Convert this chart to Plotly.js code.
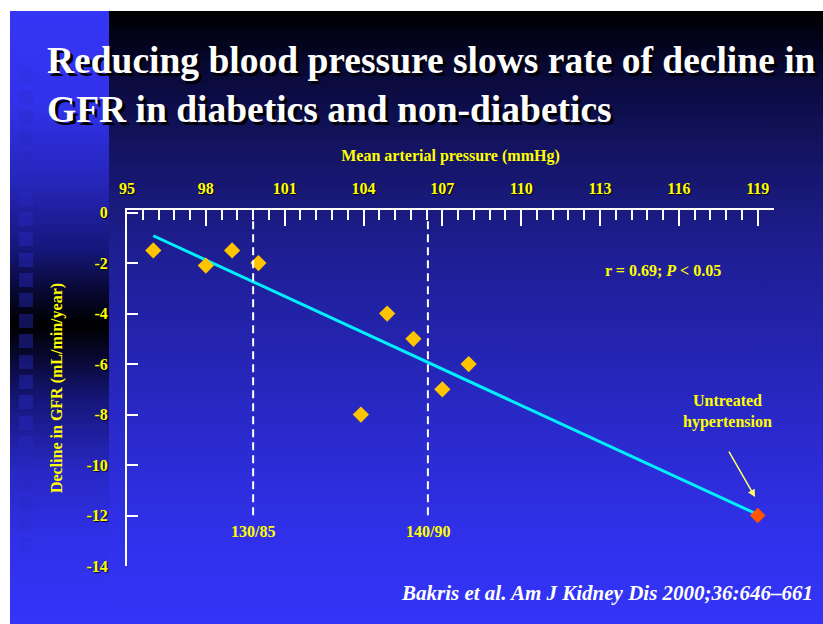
<!DOCTYPE html>
<html>
<head>
<meta charset="utf-8">
<script src="https://cdn.plot.ly/plotly-3.0.1.min.js"></script>
<style>
  html, body { margin: 0; padding: 0; background: #ffffff; }
  #wrap { position: relative; width: 823px; height: 624px; overflow: hidden; background: #ffffff; }
  #slide {
    position: absolute; left: 10px; top: 11px; width: 813px; height: 613px;
    background: linear-gradient(to bottom,
      #000000 0%, #03031a 4.7%, #0a0a3c 11%, #111158 19.4%, #16166c 26%,
      #1e1e92 39%, #2424b2 55.5%, #2b2bd2 71.6%, #3131ee 88%, #3434f8 100%);
  }
  #strip {
    position: absolute; left: 0; top: 0; width: 99px; height: 100%;
    background: linear-gradient(to bottom,
      #3535f5 0%, #3232ec 14.5%, #2626bb 27.6%, #16167a 39%, #07072c 46.3%,
      #000000 51.2%, #07072c 56%, #16167a 63.5%, #2828c4 75%, #3030e8 86%, #3434fa 100%);
  }
  .sq { position: absolute; left: 9px; width: 14px; height: 14px; background: rgba(40, 40, 190, 0.45); }
  #chart { position: absolute; left: 0; top: 0; width: 823px; height: 624px; }
</style>
</head>
<body>
<div id="wrap">
  <div id="slide"><div id="strip"></div></div>
  <div id="chart"></div>
</div>
<script>
// Mean arterial pressure (mmHg) vs. decline in GFR (mL/min/year)
const mapX = [96, 98, 99, 100, 103.9, 104.9, 105.9, 107, 108];
const gfrDecline = [-1.5, -2.1, -1.5, -2.0, -8.0, -4.0, -5.0, -7.0, -6.0];

// Untreated hypertension group
const untreatedMap = [119];
const untreatedDecline = [-12];

// Regression line end points
const fitMap = [96, 119];
const fitDecline = [-0.92, -11.96];

// Blood-pressure targets expressed as mean arterial pressure
const targetMap = [99.8, 106.45];
const targetLabels = ['130/85', '140/90'];

// Axis ticks
const xTickVals = [95, 98, 101, 104, 107, 110, 113, 116, 119];
const xTickText = ['95', '98', '101', '104', '107', '110', '113', '116', '119'];
const yTickVals = [0, -2, -4, -6, -8, -10, -12, -14];
const yTickText = ['0', '-2', '-4', '-6', '-8', '-10', '-12', '-14'];

// Decorative squares down the left band of the slide
const strip = document.getElementById('strip');
for (let k = 0; k < 24; k++) {
  const d = document.createElement('div');
  d.className = 'sq';
  d.style.top = (58.6 + 20.35 * k) + 'px';
  // fade the squares out toward both ends of the column
  const edge = Math.min(k, 23 - k);
  d.style.opacity = Math.min(1, 0.35 + edge * 0.13).toFixed(2);
  strip.appendChild(d);
}

const serif = '"Liberation Serif", "Times New Roman", serif';
const yellow = '#FFFF00';
const tickFont = { family: serif, size: 16, color: yellow, weight: 'bold', shadow: '1px 1px 1px rgba(0,0,0,0.85)' };
const labelFont = { family: serif, size: 16, color: yellow, weight: 'bold' };

const traces = [
  {
    x: fitMap, y: fitDecline, type: 'scatter', mode: 'lines',
    line: { color: '#00F0FF', width: 3 }, hoverinfo: 'skip'
  },
  {
    x: mapX, y: gfrDecline, type: 'scatter', mode: 'markers',
    marker: { symbol: 'diamond', size: 12.5, color: '#FFC400', line: { width: 0 } }
  },
  {
    x: untreatedMap, y: untreatedDecline, type: 'scatter', mode: 'markers',
    marker: { symbol: 'diamond', size: 12, color: '#FF5500', line: { width: 0 } }
  }
];

const shapes = targetMap.map(v => ({
  type: 'line', xref: 'x', yref: 'y', x0: v, x1: v, y0: -0.35, y1: -12.1,
  line: { color: '#FFFFFF', width: 2, dash: '8px,5px' }
}));

const annotations = targetLabels.map((t, i) => ({
  x: targetMap[i], y: -12.65, xref: 'x', yref: 'y', text: t, showarrow: false,
  xanchor: 'center', yanchor: 'middle', font: labelFont
}));

annotations.push(
  {
    x: 115.4, y: -2.3, xref: 'x', yref: 'y', showarrow: false,
    text: 'r = 0.69; <i>P</i> < 0.05', xanchor: 'center', yanchor: 'middle', font: labelFont
  },
  {
    x: 117.85, y: -7.9, xref: 'x', yref: 'y', showarrow: false,
    text: 'Untreated<br>hypertension', xanchor: 'center', yanchor: 'middle', font: labelFont
  },
  {
    x: 118.9, y: -11.27, xref: 'x', yref: 'y', text: '', showarrow: true,
    ax: -27, ay: -47, arrowhead: 2, arrowsize: 1, arrowwidth: 1.5, arrowcolor: '#FFFF66', standoff: 0
  },
  {
    x: 1.0634, y: -0.076, xref: 'paper', yref: 'paper', showarrow: false,
    text: 'Bakris et al. Am J Kidney Dis 2000;36:646\u2013661', xanchor: 'right', yanchor: 'middle',
    font: { family: serif, size: 21, color: '#FFFFFF', weight: 'bold', style: 'italic' }
  }
);

const layout = {
  width: 823, height: 624,
  paper_bgcolor: 'rgba(0,0,0,0)', plot_bgcolor: 'rgba(0,0,0,0)',
  margin: { l: 127, r: 49, t: 210, b: 58, pad: 0 },
  showlegend: false,
  title: {
    text: 'Reducing blood pressure slows rate of decline in<br>GFR in diabetics and non-diabetics',
    x: 47 / 823, xref: 'container', xanchor: 'left',
    y: 1 - 73 / 624, yref: 'container', yanchor: 'top',
    font: { family: serif, size: 37.5, color: '#FFFFFF', weight: 'bold', shadow: '3px 3px 0px #000000' }
  },
  xaxis: {
    side: 'top', range: [95, 119.62], fixedrange: true,
    tickmode: 'array', tickvals: xTickVals, ticktext: xTickText,
    ticks: 'inside', ticklen: 16, tickwidth: 2, tickcolor: '#FFFFFF',
    showline: true, linecolor: '#FFFFFF', linewidth: 2,
    showgrid: false, zeroline: false,
    tickfont: tickFont, ticklabelstandoff: 8,
    minor: { tickmode: 'linear', tick0: 95, dtick: 0.6, ticks: 'inside', ticklen: 10, tickwidth: 2, tickcolor: '#FFFFFF', showgrid: false },
    title: { text: 'Mean arterial pressure (mmHg)', font: labelFont, standoff: 14 },
    automargin: false
  },
  yaxis: {
    range: [-14, 0.1], fixedrange: true,
    tickmode: 'array', tickvals: yTickVals, ticktext: yTickText,
    ticks: 'inside', ticklen: 11, tickwidth: 2, tickcolor: '#FFFFFF',
    showline: true, linecolor: '#FFFFFF', linewidth: 2,
    showgrid: false, zeroline: false,
    tickfont: tickFont, ticklabelstandoff: 14,
    title: { text: 'Decline in GFR (mL/min/year)', font: labelFont, standoff: 20 },
    automargin: false
  },
  shapes: shapes,
  annotations: annotations
};

Plotly.newPlot('chart', traces, layout, { displayModeBar: false, staticPlot: true });
</script>
</body>
</html>
